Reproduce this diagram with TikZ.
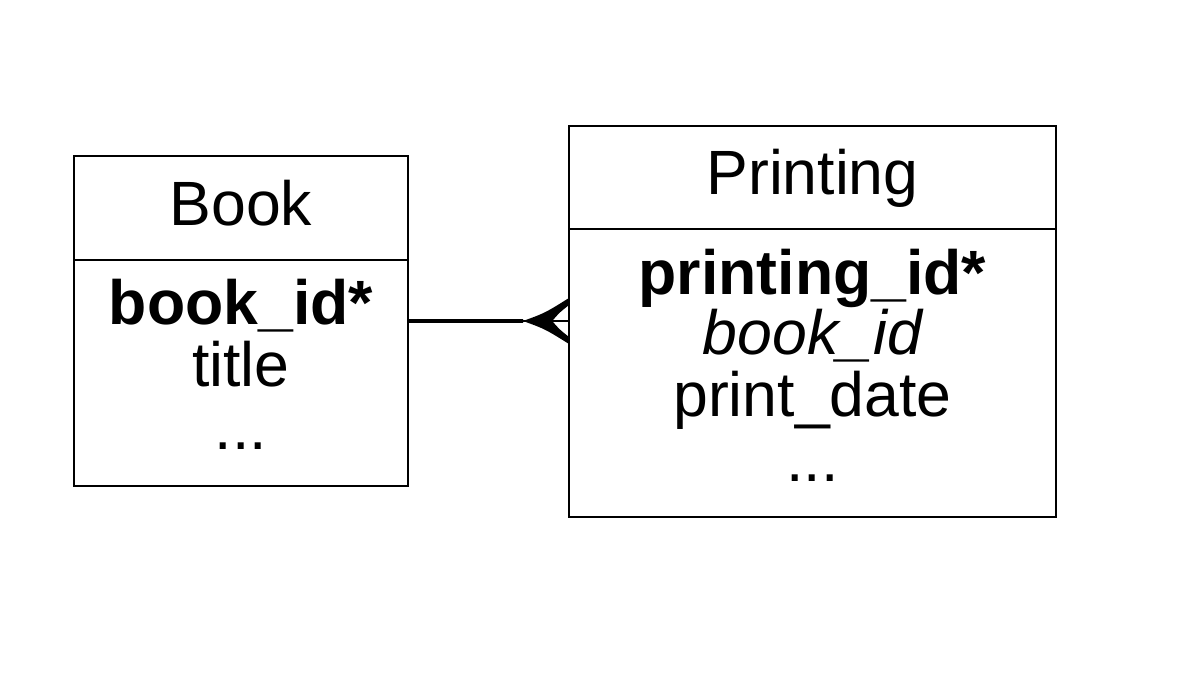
\documentclass[tikz,border=0pt]{standalone}
\usepackage{fontspec}
\setmainfont{Liberation Sans}
\usetikzlibrary{positioning}
\tikzset{
  entity/.style={draw, line width=1.4pt, outer sep=0pt, inner sep=0pt,
    font=\fontsize{44.5}{53}\selectfont, text height=0.86cm, text depth=0pt},
  field/.style={anchor=base, inner sep=0pt, font=\fontsize{44.5}{53}\selectfont},
  link/.style={line width=2.8pt}
}
\begin{document}
\begin{tikzpicture}
  \useasboundingbox (0,0) rectangle (29.95,17.025);
  % Book
  \node[entity, minimum width=8.35cm, minimum height=2.6cm, anchor=north west] (bookhead) at (1.85,13.125) {Book};
  \node[entity, minimum width=8.35cm, minimum height=5.65cm, below=0pt of bookhead] (bookbody) {};
  \foreach \y/\t [count=\i] in {8.9/{\bfseries book\_id*}, 7.35/title, 5.775/{.{}.{}.}} {
    \node[field] (bookf\i) at (6.025,\y) {\t};
  }
  % Printing
  \node[entity, minimum width=12.175cm, minimum height=2.575cm, anchor=north west] (printhead) at (14.225,13.875) {Printing};
  \node[entity, minimum width=12.175cm, minimum height=7.2cm, below=0pt of printhead] (printbody) {};
  \foreach \y/\t [count=\i] in {9.65/{\bfseries printing\_id*}, 8.15/{\itshape book\_id}, 6.6/print\_date, 4.975/{.{}.{}.}} {
    \node[field] (printf\i) at (20.3125,\y) {\t};
  }
  % one-to-many connector
  \coordinate (fork) at ([yshift=1.3cm]printbody.west);
  \coordinate (tip) at ([xshift=-1.15cm]fork);
  \draw[link] ([yshift=1.3cm]bookbody.east) -- (tip);
  \draw[line width=1.4pt] (tip) -- (fork);
  \fill (tip) .. controls ++(0.55,0.2) .. ([yshift=0.575cm]fork)
    -- ([yshift=0.4cm]fork) .. controls ++(-0.25,-0.2) .. ([xshift=-0.42cm]fork)
    .. controls ++(0.17,-0.2) .. ([yshift=-0.4cm]fork)
    -- ([yshift=-0.575cm]fork) .. controls ++(-0.6,0.375) .. cycle;
\end{tikzpicture}
\end{document}
